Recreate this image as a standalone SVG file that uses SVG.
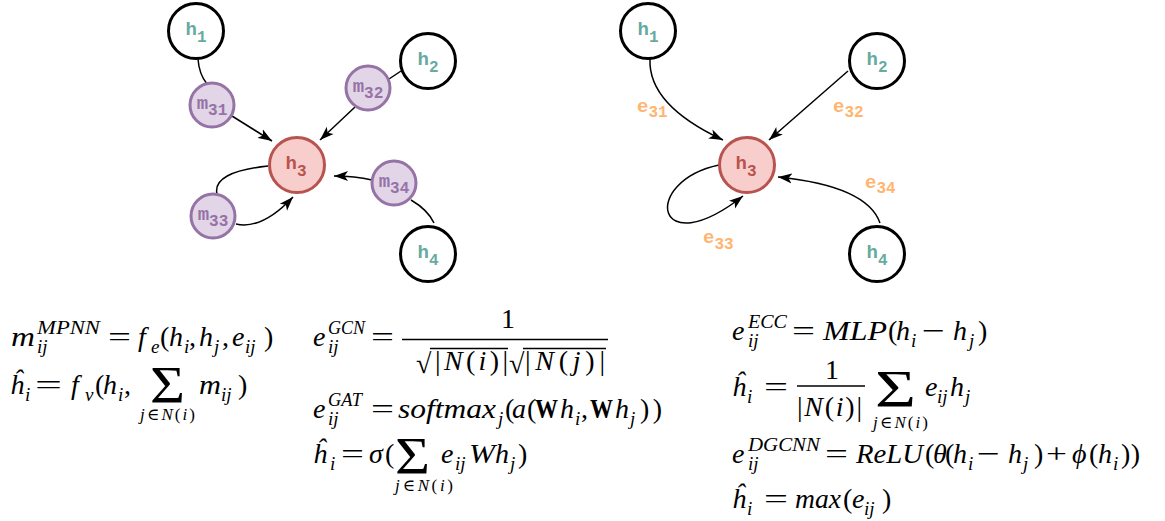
<svg xmlns="http://www.w3.org/2000/svg" width="1165" height="521" viewBox="0 0 1165 521">
<style>
.hn{fill:#fff;stroke:#000;stroke-width:3}
.h3n{fill:#F8CECC;stroke:#B85450;stroke-width:3}
.mn{fill:#E1D5E7;stroke:#9673A6;stroke-width:3}
.lbl{font-family:"Liberation Mono","Courier New",monospace;font-weight:bold;font-size:19px}
.mid{text-anchor:middle}
.sub{font-size:16px}
.teal{fill:#67AB9F}
.red{fill:#B85450}
.pur{fill:#9673A6}
.org{fill:#FFB570}
.edge{fill:none;stroke:#000;stroke-width:1.5}
.mi{font-family:"Liberation Serif","DejaVu Serif",serif;font-style:italic;font-size:28px}
.mr{font-family:"Liberation Serif","DejaVu Serif",serif;font-size:28px}
.bf{font-family:"Liberation Serif","DejaVu Serif",serif;font-size:28px;font-weight:bold}
.si{font-family:"Liberation Serif","DejaVu Serif",serif;font-style:italic;font-size:19px}
.ui{font-family:"Liberation Serif","DejaVu Serif",serif;font-style:italic;font-size:17px}
.big{font-family:"Liberation Serif","DejaVu Serif",serif;font-size:53px}
.up{font-style:normal}
.bar{stroke:#000;stroke-width:1.4}
</style>
<defs>
<marker id="arr" markerWidth="15" markerHeight="11" refX="14" refY="5.5" orient="auto" markerUnits="userSpaceOnUse">
<path d="M0,0.5 L14,5.5 L0,10.5 L3.5,5.5 Z" fill="#000"/>
</marker>
</defs>

<g id="connectors">
<path class="edge" d="M198,59 Q199,74 207,84"/>
<path class="edge" d="M232,116 L272,141" marker-end="url(#arr)"/>
<path class="edge" d="M401,71 L389,79"/>
<path class="edge" d="M355,107 L320,140" marker-end="url(#arr)"/>
<path class="edge" d="M434,223 Q428,210 411,200"/>
<path class="edge" d="M372,180 Q355,176 334,176" marker-end="url(#arr)"/>
<path class="edge" d="M268,166 Q212,172 217,194"/>
<path class="edge" d="M236,224 Q262,230 293,197" marker-end="url(#arr)"/>
<path class="edge" d="M650,59 Q648,105 723,140" marker-end="url(#arr)"/>
<path class="edge" d="M848,71 L769,140" marker-end="url(#arr)"/>
<path class="edge" d="M880,223 Q867,186 778,177" marker-end="url(#arr)"/>
<path class="edge" d="M719,165 C640,182 655,265 743,196" marker-end="url(#arr)"/>
</g>

<g id="edge-labels">
<text class="lbl org" x="637" y="112">e<tspan class="sub" dy="5">31</tspan></text>
<text class="lbl org" x="833" y="112">e<tspan class="sub" dy="5">32</tspan></text>
<text class="lbl org" x="865" y="188">e<tspan class="sub" dy="5">34</tspan></text>
<text class="lbl org" x="703" y="243">e<tspan class="sub" dy="6">33</tspan></text>
</g>

<g id="L-h1"><circle class="hn" cx="196" cy="31" r="27.5"/><text class="lbl mid teal" x="196" y="35">h<tspan class="sub" dy="7">1</tspan></text></g>
<g id="L-h2"><circle class="hn" cx="428" cy="61" r="27.5"/><text class="lbl mid teal" x="428" y="65">h<tspan class="sub" dy="7">2</tspan></text></g>
<g id="L-h3"><circle class="h3n" cx="297" cy="165" r="27.5"/><text class="lbl mid red" x="296" y="169">h<tspan class="sub" dy="7">3</tspan></text></g>
<g id="L-h4"><circle class="hn" cx="428" cy="254" r="27.5"/><text class="lbl mid teal" x="428" y="258">h<tspan class="sub" dy="7">4</tspan></text></g>
<g id="L-m31"><circle class="mn" cx="212" cy="105" r="22"/><text class="lbl mid pur" x="212" y="108.5">m<tspan class="sub" dy="6.5">31</tspan></text></g>
<g id="L-m32"><circle class="mn" cx="368" cy="88" r="22"/><text class="lbl mid pur" x="368" y="91.5">m<tspan class="sub" dy="6.5">32</tspan></text></g>
<g id="L-m33"><circle class="mn" cx="213" cy="216" r="22"/><text class="lbl mid pur" x="213" y="219.5">m<tspan class="sub" dy="6.5">33</tspan></text></g>
<g id="L-m34"><circle class="mn" cx="394" cy="183" r="22"/><text class="lbl mid pur" x="394" y="186.5">m<tspan class="sub" dy="6.5">34</tspan></text></g>

<g id="R-h1"><circle class="hn" cx="648" cy="31" r="27.5"/><text class="lbl mid teal" x="648" y="35">h<tspan class="sub" dy="7">1</tspan></text></g>
<g id="R-h2"><circle class="hn" cx="877" cy="61" r="27.5"/><text class="lbl mid teal" x="877" y="65">h<tspan class="sub" dy="7">2</tspan></text></g>
<g id="R-h3"><circle class="h3n" cx="747" cy="165" r="27.5"/><text class="lbl mid red" x="746" y="169">h<tspan class="sub" dy="7">3</tspan></text></g>
<g id="R-h4"><circle class="hn" cx="877" cy="254" r="27.5"/><text class="lbl mid teal" x="877" y="258">h<tspan class="sub" dy="7">4</tspan></text></g>

<g id="formula-mpnn">
<text class="mi" x="11" y="346" textLength="24" lengthAdjust="spacingAndGlyphs">m</text>
<text class="si" x="37" y="334" textLength="63" lengthAdjust="spacingAndGlyphs">MPNN</text>
<text class="si" x="37" y="353">ij</text>
<text class="mr" x="108" y="346" textLength="23" lengthAdjust="spacingAndGlyphs">=</text>
<text class="mi" x="138" y="346">f</text>
<text class="si" x="151" y="353">e</text>
<text class="mr" x="160" y="346">(</text>
<text class="mi" x="169" y="346">h</text>
<text class="si" x="184" y="353">i</text>
<text class="mr" x="189" y="346">,</text>
<text class="mi" x="199" y="346">h</text>
<text class="si" x="214" y="353">j</text>
<text class="mr" x="222" y="346">,</text>
<text class="mi" x="232" y="346">e</text>
<text class="si" x="245" y="353">ij</text>
<text class="mr" x="264" y="346">)</text>

<text class="mi" x="10" y="394">ĥ</text>
<text class="si" x="25" y="401">i</text>
<text class="mr" x="35" y="394" textLength="27" lengthAdjust="spacingAndGlyphs">=</text>
<text class="mi" x="71" y="394">f</text>
<text class="si" x="85" y="401">v</text>
<text class="mr" x="95" y="394">(</text>
<text class="mi" x="103" y="394">h</text>
<text class="si" x="118" y="401">i</text>
<text class="mr" x="124" y="394">,</text>
<text class="big" x="150" y="403" textLength="35" lengthAdjust="spacingAndGlyphs">Σ</text>
<text class="ui" x="140" y="420" textLength="55">j<tspan class="up">∈</tspan>N<tspan class="up">(</tspan>i<tspan class="up">)</tspan></text>
<text class="mi" x="199" y="394" textLength="22" lengthAdjust="spacingAndGlyphs">m</text>
<text class="si" x="221" y="401">ij</text>
<text class="mr" x="238" y="394">)</text>
</g>

<g id="formula-gcn-gat">
<text class="mi" x="313" y="346">e</text>
<text class="si" x="328" y="334" textLength="37" lengthAdjust="spacingAndGlyphs">GCN</text>
<text class="si" x="328" y="353">ij</text>
<text class="mr" x="371" y="346" textLength="23" lengthAdjust="spacingAndGlyphs">=</text>
<text class="mr" x="501" y="328">1</text>
<line class="bar" x1="402" y1="339.5" x2="608" y2="339.5"/>
<text class="mr" x="416" y="373">√</text>
<line class="bar" x1="430" y1="348.5" x2="508" y2="348.5"/>
<text class="mr" x="435" y="370" textLength="73">|<tspan class="mi">N</tspan>(<tspan class="mi">i</tspan>)|</text>
<text class="mr" x="509" y="373">√</text>
<line class="bar" x1="523" y1="348.5" x2="606" y2="348.5"/>
<text class="mr" x="525" y="370" textLength="80">|<tspan class="mi">N</tspan>(<tspan class="mi">j</tspan>)|</text>

<text class="mi" x="313" y="418">e</text>
<text class="si" x="328" y="406" textLength="34" lengthAdjust="spacingAndGlyphs">GAT</text>
<text class="si" x="328" y="425">ij</text>
<text class="mr" x="371" y="418" textLength="23" lengthAdjust="spacingAndGlyphs">=</text>
<text class="mi" x="398" y="418" textLength="98" lengthAdjust="spacingAndGlyphs">softmax</text>
<text class="si" x="498" y="425">j</text>
<text class="mr" x="505" y="418">(</text>
<text class="mi" x="512" y="418">a</text>
<text class="mr" x="527" y="418">(</text>
<text class="bf" x="535" y="418" textLength="23" lengthAdjust="spacingAndGlyphs">W</text>
<text class="mi" x="560" y="418">h</text>
<text class="si" x="575" y="425">i</text>
<text class="mr" x="581" y="418">,</text>
<text class="bf" x="590" y="418" textLength="23" lengthAdjust="spacingAndGlyphs">W</text>
<text class="mi" x="615" y="418">h</text>
<text class="si" x="630" y="425">j</text>
<text class="mr" x="640" y="418" textLength="22">))</text>

<text class="mi" x="313" y="463">ĥ</text>
<text class="si" x="330" y="470">i</text>
<text class="mr" x="341" y="463" textLength="23" lengthAdjust="spacingAndGlyphs">=</text>
<text class="mi" x="369" y="463">σ</text>
<text class="mr" x="385" y="463">(</text>
<text class="big" x="395" y="474" textLength="35" lengthAdjust="spacingAndGlyphs">Σ</text>
<text class="ui" x="395" y="491" textLength="58">j<tspan class="up">∈</tspan>N<tspan class="up">(</tspan>i<tspan class="up">)</tspan></text>
<text class="mi" x="441" y="463">e</text>
<text class="si" x="455" y="470">ij</text>
<text class="mi" x="469" y="463" textLength="26" lengthAdjust="spacingAndGlyphs">W</text>
<text class="mi" x="495" y="463">h</text>
<text class="si" x="510" y="470">j</text>
<text class="mr" x="518" y="463">)</text>
</g>

<g id="formula-ecc-dgcnn">
<text class="mi" x="732" y="340">e</text>
<text class="si" x="748" y="328" textLength="39" lengthAdjust="spacingAndGlyphs">ECC</text>
<text class="si" x="748" y="347">ij</text>
<text class="mr" x="792" y="340" textLength="23" lengthAdjust="spacingAndGlyphs">=</text>
<text class="mi" x="823" y="340" textLength="64" lengthAdjust="spacingAndGlyphs">MLP</text>
<text class="mr" x="888" y="340">(</text>
<text class="mi" x="896" y="340">h</text>
<text class="si" x="911" y="347">i</text>
<text class="mr" x="922" y="340" textLength="23" lengthAdjust="spacingAndGlyphs">−</text>
<text class="mi" x="953" y="340">h</text>
<text class="si" x="969" y="347">j</text>
<text class="mr" x="978" y="340">)</text>

<text class="mi" x="732" y="396">ĥ</text>
<text class="si" x="747" y="403">i</text>
<text class="mr" x="764" y="396" textLength="24" lengthAdjust="spacingAndGlyphs">=</text>
<text class="mr" x="825" y="379">1</text>
<line class="bar" x1="797" y1="386" x2="865" y2="386"/>
<text class="mr" x="797" y="416" textLength="65">|<tspan class="mi">N</tspan>(<tspan class="mi">i</tspan>)|</text>
<text class="big" x="875" y="407" textLength="41" lengthAdjust="spacingAndGlyphs">Σ</text>
<text class="ui" x="873" y="428" textLength="55">j<tspan class="up">∈</tspan>N<tspan class="up">(</tspan>i<tspan class="up">)</tspan></text>
<text class="mi" x="925" y="396">e</text>
<text class="si" x="937" y="403">ij</text>
<text class="mi" x="950" y="396">h</text>
<text class="si" x="965" y="403">j</text>

<text class="mi" x="732" y="463">e</text>
<text class="si" x="748" y="451" textLength="72" lengthAdjust="spacingAndGlyphs">DGCNN</text>
<text class="si" x="748" y="470">ij</text>
<text class="mr" x="825" y="463" textLength="23" lengthAdjust="spacingAndGlyphs">=</text>
<text class="mi" x="856" y="463" textLength="67" lengthAdjust="spacingAndGlyphs">ReLU</text>
<text class="mr" x="925" y="463">(</text>
<text class="mi" x="933" y="463">θ</text>
<text class="mr" x="945" y="463">(</text>
<text class="mi" x="953" y="463">h</text>
<text class="si" x="968" y="470">i</text>
<text class="mr" x="977" y="463" textLength="23" lengthAdjust="spacingAndGlyphs">−</text>
<text class="mi" x="1008" y="463">h</text>
<text class="si" x="1023" y="470">j</text>
<text class="mr" x="1034" y="463">)</text>
<text class="mr" x="1046" y="463" textLength="21" lengthAdjust="spacingAndGlyphs">+</text>
<text class="mi" x="1072" y="463">ϕ</text>
<text class="mr" x="1089" y="463">(</text>
<text class="mi" x="1098" y="463">h</text>
<text class="si" x="1113" y="470">i</text>
<text class="mr" x="1121" y="463" textLength="19">))</text>

<text class="mi" x="732" y="508">ĥ</text>
<text class="si" x="747" y="515">i</text>
<text class="mr" x="764" y="508" textLength="24" lengthAdjust="spacingAndGlyphs">=</text>
<text class="mi" x="795" y="508" textLength="46" lengthAdjust="spacingAndGlyphs">max</text>
<text class="mr" x="843" y="508">(</text>
<text class="mi" x="852" y="508">e</text>
<text class="si" x="864" y="515">ij</text>
<text class="mr" x="882" y="508">)</text>
</g>
</svg>
